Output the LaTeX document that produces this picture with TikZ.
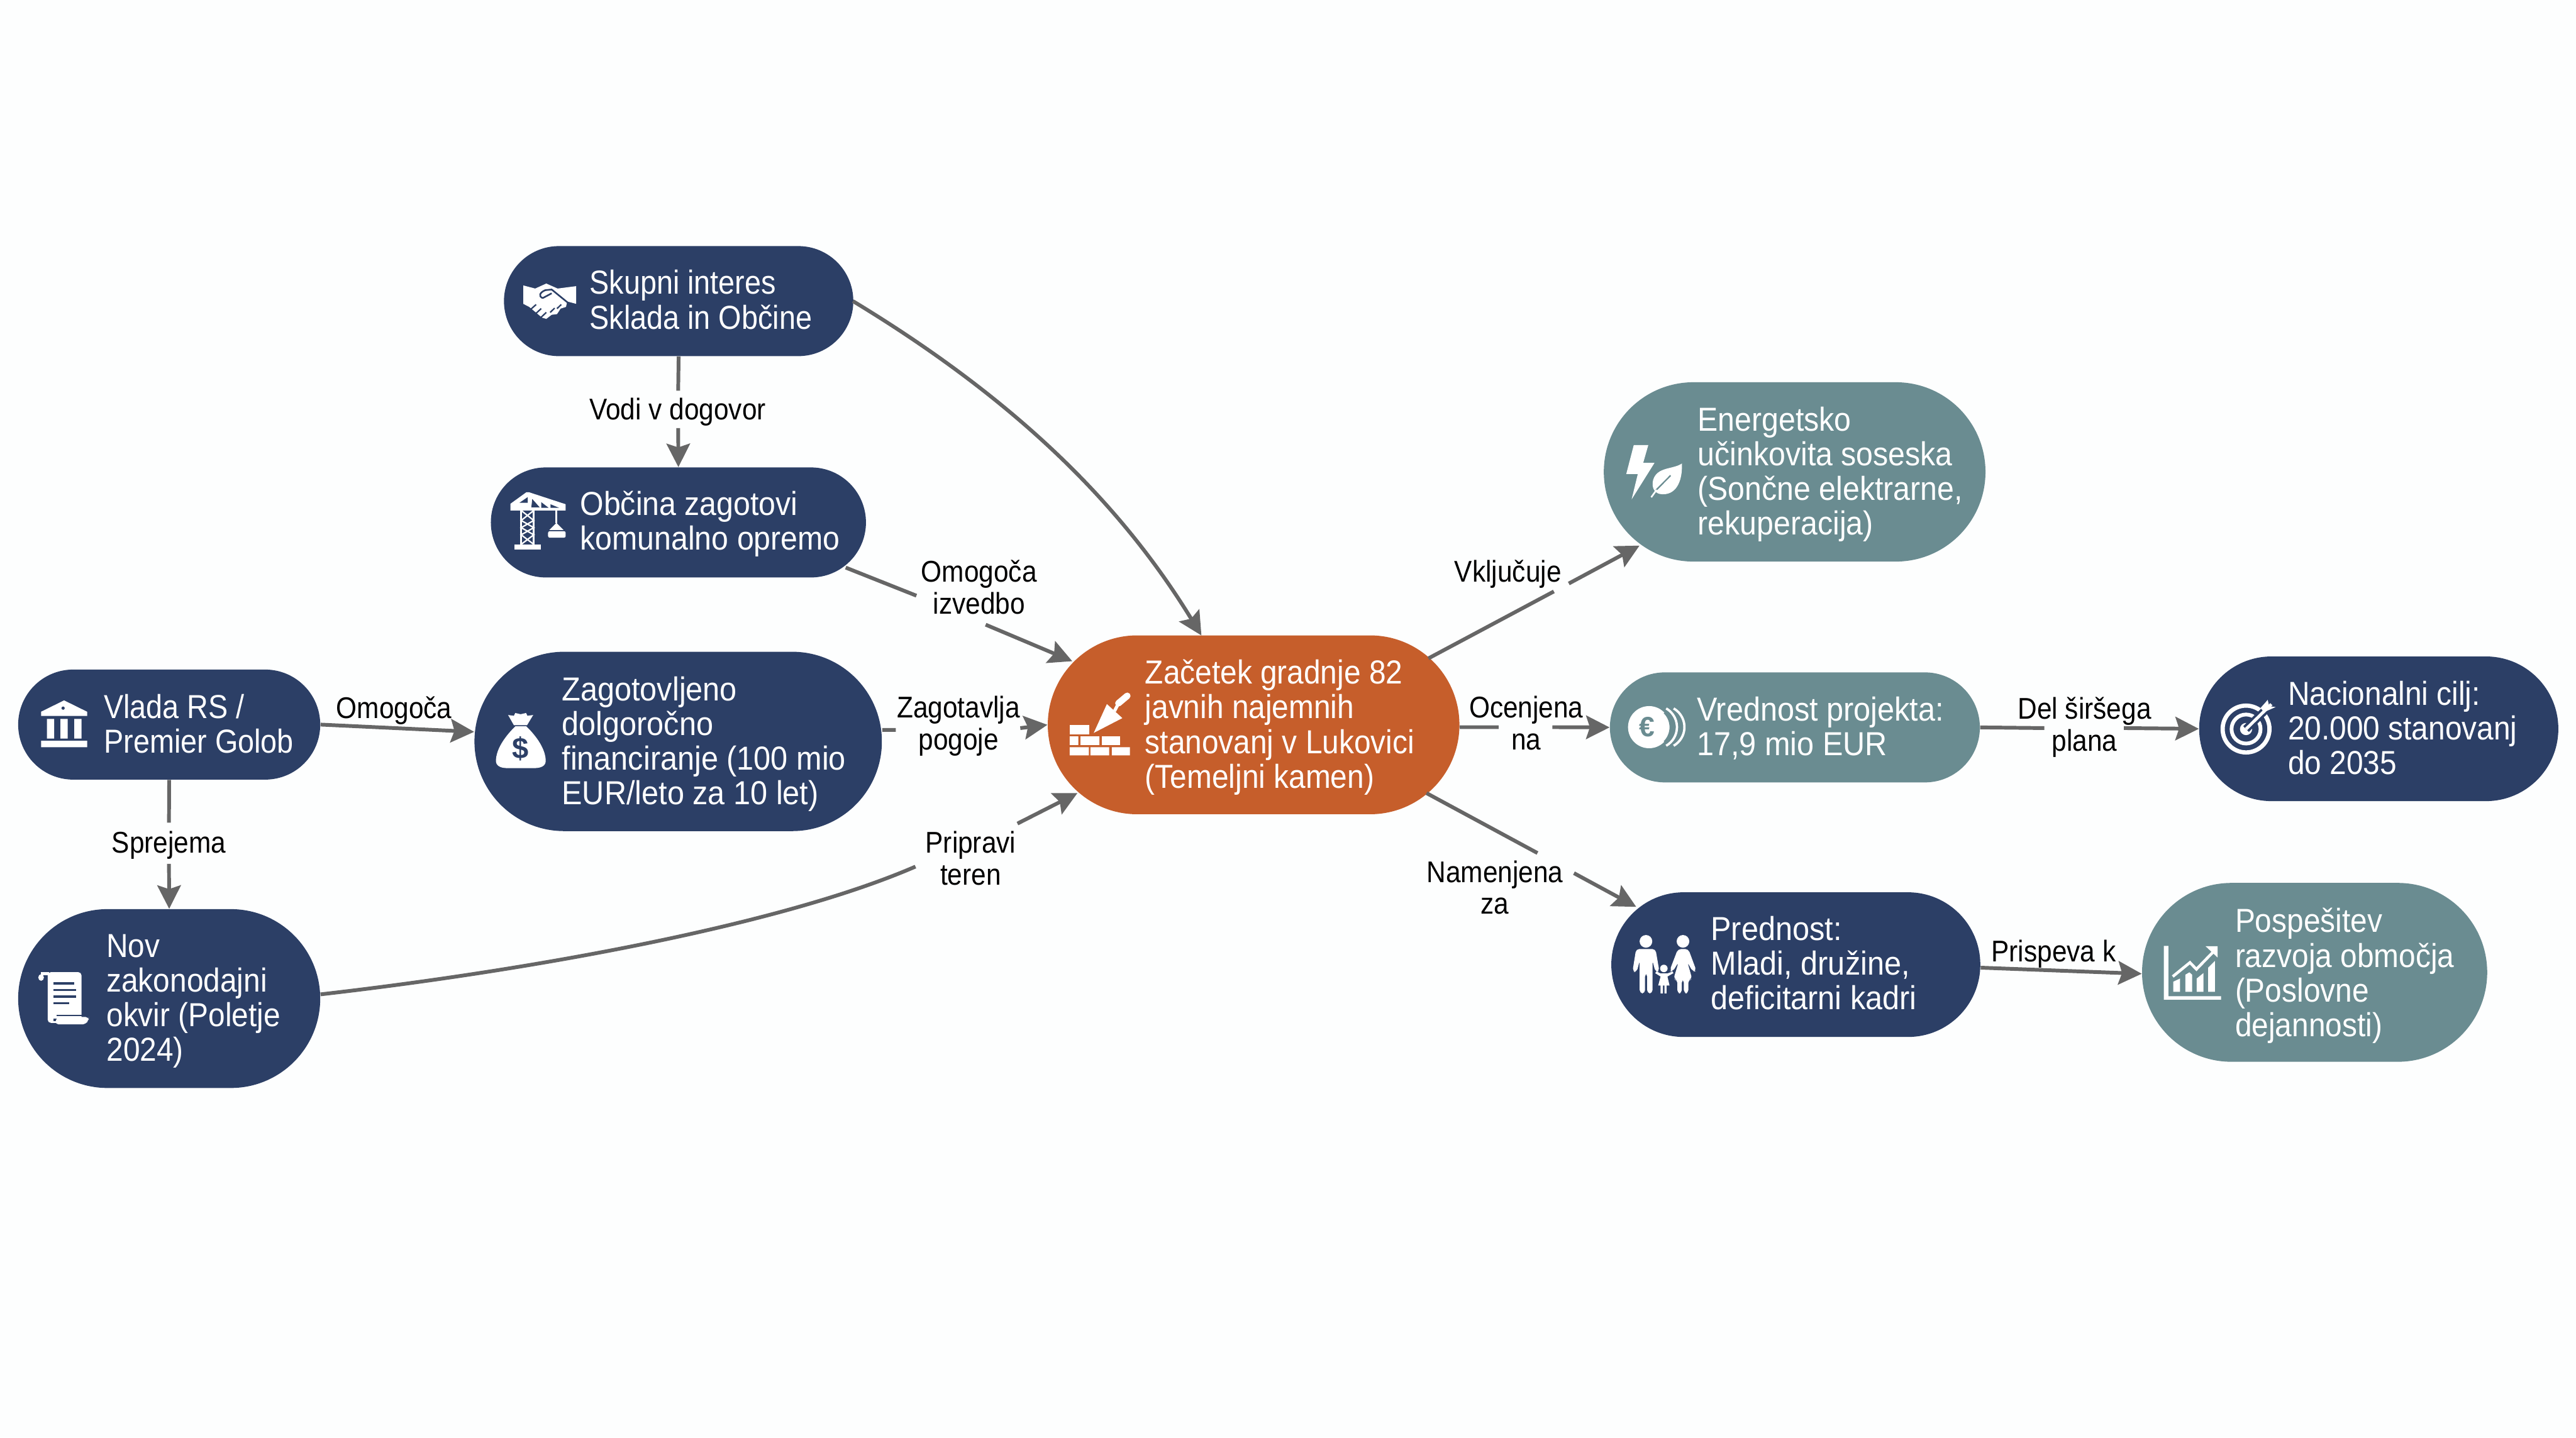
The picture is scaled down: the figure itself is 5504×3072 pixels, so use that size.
\documentclass[tikz,border=0pt]{standalone}
\usepackage{fontspec}
\setmainfont{Liberation Sans}
\newfontfamily\fa[FakeStretch=0.885]{Liberation Sans}
\newfontfamily\fb[FakeStretch=0.905]{Liberation Sans}
\newfontfamily\fc[FakeStretch=0.92]{Liberation Sans}
\newfontfamily\fd[FakeStretch=0.913]{Liberation Sans}
\newfontfamily\fl[FakeStretch=0.89]{Liberation Sans}
\usetikzlibrary{shapes.misc,arrows.meta,calc}
\definecolor{navy}{HTML}{2C3F66}
\definecolor{brick}{HTML}{C65E2B}
\definecolor{teal2}{HTML}{6A8C91}
\definecolor{wire}{HTML}{666666}
\definecolor{bgc}{HTML}{FDFEFE}
\newcommand{\ft}{\rule{0pt}{15pt}}
\newcommand{\fs}{\rule{0pt}{14pt}}
\tikzset{
  pill/.style={shape=rounded rectangle,inner sep=0pt,draw=none,text=white},
  pillb/.style={pill,fill=navy},
  pillo/.style={pill,fill=brick},
  pillt/.style={pill,fill=teal2},
  txt/.style={anchor=north west,inner sep=0pt,align=left,text=white,xshift=-0.03cm,font=\fontsize{20.2}{21.05}\selectfont},
  lab/.style={anchor=north,inner sep=0pt,align=center,text=black,font=\fontsize{18.2}{19.35}\selectfont},
  conn/.style={draw=wire,line width=0.08cm,-{Stealth[length=0.5cm,width=0.5cm,inset=0.08cm]}},
  ico/.style={fill=white,draw=none},
  wl/.style={draw=white,line width=#1*0.01cm},
  nl/.style={draw=navy,line width=#1*0.01cm},
}
\begin{document}
\begin{tikzpicture}[x=0.01cm,y=-0.01cm]
\fill[bgc] (0,0) rectangle (5504,3072);
% pills
\node[pillb,minimum width=7.46cm,minimum height=2.35cm] (skupni) at (1450,643.5) {};
\node[pillb,minimum width=8.01cm,minimum height=2.35cm] (obcina) at (1449.5,1116.5) {};
\node[pillb,minimum width=6.45cm,minimum height=2.35cm] (vlada) at (361.5,1548.5) {};
\node[pillb,minimum width=6.45cm,minimum height=3.82cm] (nov) at (361.5,2134) {};
\node[pillb,minimum width=8.70cm,minimum height=3.83cm] (zagot) at (1449,1584.5) {};
\node[pillo,minimum width=8.79cm,minimum height=3.82cm] (center) at (2678.5,1549) {};
\node[pillt,minimum width=8.15cm,minimum height=3.83cm] (energ) at (3834.5,1008.5) {};
\node[pillt,minimum width=7.90cm,minimum height=2.35cm] (vred) at (3835,1554.5) {};
\node[pillb,minimum width=7.67cm,minimum height=3.09cm] (nac) at (5082.5,1557.5) {};
\node[pillb,minimum width=7.88cm,minimum height=3.09cm] (pred) at (3837,2061.5) {};
\node[pillt,minimum width=7.37cm,minimum height=3.82cm] (posp) at (4945.5,2078) {};
% gap ends of connectors
\coordinate (g1a) at (1449,835); \coordinate (g1b) at (1449,915);
\coordinate (g2a) at (361,1758); \coordinate (g2b) at (361,1846);
\coordinate (g3a) at (1914,1560); \coordinate (g3b) at (2180,1556);
\coordinate (g4a) at (1958,1273); \coordinate (g4b) at (2106,1335);
\coordinate (g5a) at (1956,1852); \coordinate (g5b) at (2174,1760);
\coordinate (g6a) at (3320,1264); \coordinate (g6b) at (3352,1247);
\coordinate (g7a) at (3202,1554); \coordinate (g7b) at (3317,1554);
\coordinate (g8a) at (3285,1823); \coordinate (g8b) at (3363,1866);
\coordinate (g9a) at (4368,1556); \coordinate (g9b) at (4538,1556);
% connectors
\draw[conn] (skupni.south) -- (g1a) (g1b) -- (obcina.north);
\draw[conn] (vlada.south) -- (g2a) (g2b) -- (nov.north);
\draw[conn] (vlada.east) -- ([shift={(0,-20.5)}]zagot.west);
\draw[conn] ([shift={(0,-24.5)}]zagot.east) -- (g3a) (g3b) -- (center.west);
\draw[conn] ([shift={(-1.5,0)}]skupni.east) .. controls (2180,860) and (2400,1085) .. ([shift={(-111.5,-191)}]center.center);
\draw[conn] ([shift={(357.5,96.5)}]obcina.center) -- (g4a) (g4b) -- ([shift={(-387.5,-136)}]center.center);
\draw[conn] ([shift={(0,-9)}]nov.east) .. controls (1105,2077) and (1656,1982) .. (g5a) (g5b) -- ([shift={(-376.5,146)}]center.center);
\draw[conn] ([shift={(373.5,-142)}]center.center) -- (g6a) (g6b) -- ([shift={(-331.5,157.5)}]energ.center);
\draw[conn] ([shift={(0,5)}]center.east) -- (g7a) (g7b) -- (vred.west);
\draw[conn] ([shift={(369.5,146)}]center.center) -- (g8a) (g8b) -- ([shift={(-341,-123.5)}]pred.center);
\draw[conn] (vred.east) -- (g9a) (g9b) -- (nac.west);
\draw[conn] ([shift={(0,6.5)}]pred.east) -- ([shift={(0,3)}]posp.west);
% node texts
\node[txt,font=\fontsize{20.2}{21.05}\selectfont\fa] (skupnit) at (1262,628-52.7) {\ft Skupni interes\\Sklada in Občine};
\node[txt,font=\fontsize{20.2}{21.05}\selectfont\fd] (obcinat) at (1242,1100-52.7) {\ft Občina zagotovi\\komunalno opremo};
\node[txt,font=\fontsize{20.2}{21.05}\selectfont\fa] (vladat) at (224.5,1534-52.7) {\ft Vlada RS /\\Premier Golob};
\node[txt,font=\fontsize{20.2}{21.05}\selectfont\fb] (novt) at (230,2045-52.7) {\ft Nov\\zakonodajni\\okvir (Poletje\\2024)};
\node[txt,font=\fontsize{20.2}{21.05}\selectfont\fc] (zagott) at (1203,1497-52.7) {\ft Zagotovljeno\\dolgoročno\\financiranje (100 mio\\EUR/leto za 10 let)};
\node[txt,font=\fontsize{20.2}{21.05}\selectfont\fb] (centert) at (2449,1461-52.7) {\ft Začetek gradnje 82\\javnih najemnih\\stanovanj v Lukovici\\(Temeljni kamen)};
\node[txt,font=\fontsize{20.2}{21.05}\selectfont\fd] (energt) at (3630,920-52.7) {\ft Energetsko\\učinkovita soseska\\(Sončne elektrarne,\\rekuperacija)};
\node[txt,font=\fontsize{20.2}{21.05}\selectfont\fc] (vredt) at (3628,1540-52.7) {\ft Vrednost projekta:\\17,9 mio EUR};
\node[txt,font=\fontsize{20.2}{21.05}\selectfont\fb] (nact) at (4891,1506-52.7) {\ft Nacionalni cilj:\\20.000 stanovanj\\do 2035};
\node[txt,font=\fontsize{20.2}{21.05}\selectfont\fc] (predt) at (3658,2009-52.7) {\ft Prednost:\\Mladi, družine,\\deficitarni kadri};
\node[txt,font=\fontsize{20.2}{21.05}\selectfont\fb] (pospt) at (4778,1992-52.7) {\ft Pospešitev\\razvoja območja\\(Poslovne\\dejannosti)};
% connector labels
\tikzset{lab/.append style={font=\fontsize{18.2}{19.35}\selectfont\fl}}
\node[lab] (l1) at (1448,896-49.2) {\fs Vodi v dogovor};
\node[lab] (l2) at (361,1822-49.2) {\fs Sprejema};
\node[lab] (l3) at (842,1534-49.2) {\fs Omogoča};
\node[lab] (l4) at (2048,1533-49.2) {\fs Zagotavlja\\pogoje};
\node[lab] (l5) at (2092,1243-49.2) {\fs Omogoča\\izvedbo};
\node[lab] (l6) at (2074,1822-49.2) {\fs Pripravi\\teren};
\node[lab] (l7) at (3222,1243-49.2) {\fs Vključuje};
\node[lab] (l8) at (3261,1533-49.2) {\fs Ocenjena\\na};
\node[lab] (l9) at (4454,1536-49.2) {\fs Del širšega\\plana};
\node[lab] (l10) at (3194,1885-49.2) {\fs Namenjena\\za};
\node[lab] (l11) at (4388,2054-49.2) {\fs Prispeva k};
% --- icons ---
% handshake
\begin{scope}[shift={(1000,480)},x=0.00638cm,y=-0.0051cm]
\fill[ico] (185,255) -- (225,268) -- (262,247) -- (300,268) -- (362,258) -- (362,332) -- (332,322) -- (328,345) -- (310,352) -- (298,375) -- (280,378) -- (262,395) -- (248,390) -- (205,345) -- (185,332) -- cycle;
\draw[nl=3.5,line join=round] (335,328) -- (280,272) -- (258,275) .. controls (240,285) and (235,300) .. (250,308) -- (280,288);
\draw[nl=3] (228,335) -- (210,355) (245,352) -- (225,375) (262,368) -- (245,388) (290,350) -- (275,368) (312,335) -- (298,352);
\end{scope}
% crane
\begin{scope}[shift={(1000,480)},x=0.00638cm,y=-0.0051cm]
\fill[ico] (155,1342) rectangle (243,1362);
\draw[wl=4.5] (178,1198) -- (178,1342) (220,1198) -- (220,1342);
\draw[wl=3] (178,1198) -- (220,1240) -- (178,1270) -- (220,1300) -- (178,1340);
\draw[wl=3] (220,1198) -- (178,1240) -- (220,1270) -- (178,1300) -- (220,1340);
\fill[ico] (142,1170) -- (195,1122) -- (205,1122) -- (327,1172) -- (327,1198) -- (142,1198) -- cycle;
\fill[navy] (215,1150) -- (240,1185) -- (212,1185) -- cycle (245,1163) -- (270,1187) -- (245,1187) -- cycle (276,1172) -- (305,1187) -- (276,1187) -- cycle (200,1142) -- (200,1166) -- (172,1166) -- cycle;
\draw[wl=3.5] (296,1198) -- (296,1252);
\fill[ico] (296,1250) -- (320,1280) -- (272,1280) -- cycle;
\fill[ico,rounded corners=1pt] (268,1285) rectangle (327,1312);
\end{scope}
% bank
\begin{scope}[shift={(0,1350)},x=0.007015cm,y=-0.00638cm]
\fill[ico] (195,230) -- (265,268) -- (265,282) -- (125,282) -- (125,268) -- cycle;
\fill[navy] (192,256) circle[radius=0.035cm];
\fill[ico] (143,292) rectangle (165,358) (184,292) rectangle (206,358) (226,292) rectangle (248,358) (125,365) rectangle (265,387);
\end{scope}
% scroll
\begin{scope}[shift={(0,1350)},x=0.007015cm,y=-0.00638cm]
\fill[ico,rounded corners=2pt] (145,1140) rectangle (248,1310);
\fill[ico] (125,1158) ellipse[x radius=0.06cm,y radius=0.07cm];
\fill[ico] (125,1140) rectangle (150,1150);
\fill[navy] (163,1296) rectangle (252,1304);
\fill[ico,rounded corners=2pt] (172,1290) -- (270,1290) -- (270,1300) -- (260,1315) -- (168,1315) -- cycle;
\draw[nl=4.5] (163,1178) -- (225,1178) (163,1200) -- (232,1200) (163,1222) -- (232,1222) (163,1244) -- (210,1244);
\draw[nl=3.5] (172,1285) -- (250,1285);
\end{scope}
% money bag
\begin{scope}[shift={(1000,1350)},x=0.00765cm,y=-0.00333cm]
\fill[ico] (112,535) -- (128,540) -- (132,522) -- (147,530) -- (162,522) -- (166,540) -- (182,535) -- (165,600) -- (128,600) -- cycle;
\fill[ico] (132,608) .. controls (100,680) and (78,760) .. (78,830) .. controls (78,860) and (90,876) .. (110,876) -- (185,876) .. controls (205,876) and (217,860) .. (217,830) .. controls (217,760) and (195,680) .. (163,608) -- cycle;
\end{scope}
\node[inner sep=0pt,text=navy,font=\fontsize{18}{18}\selectfont\bfseries] (dollar) at (1112.5,1600) {\$};
% trowel and bricks
\begin{scope}[shift={(2200,1300)},x=0.007015cm,y=-0.00333cm]
\fill[ico] (122,750) rectangle (182,808);
\fill[ico] (122,822) rectangle (148,878) (155,822) rectangle (212,878) (220,822) rectangle (275,878);
\fill[ico] (122,892) rectangle (180,945) (185,892) rectangle (242,945) (250,892) rectangle (305,945);
\fill[ico] (235,615) -- (282,705) -- (195,800) -- cycle;
\draw[wl=7] (258,660) -- (268,620);
\draw[wl=14,line cap=round] (270,610) -- (297,562);
\end{scope}
% bolt and leaf
\begin{scope}[shift={(3380,780)},x=0.00574cm,y=-0.00638cm]
\fill[ico] (193,268) -- (247,268) -- (228,328) -- (270,328) -- (185,450) -- (208,365) -- (165,365) -- cycle;
\fill[ico] (372,330) .. controls (340,350) and (280,340) .. (265,385) .. controls (258,410) and (270,428) .. (290,432) .. controls (350,440) and (375,390) .. (372,330) -- cycle;
\draw[teal2,line width=0.03cm] (275,420) -- (330,370);
\draw[wl=3.5] (258,443) -- (278,418);
\end{scope}
% coins
\draw[wl=5] (3560,1514) arc[start angle=60,end angle=-60,radius=0.46cm];
\draw[wl=5] (3576,1514) arc[start angle=60,end angle=-60,radius=0.46cm];
\fill[ico] (3523.5,1554) circle[radius=0.45cm];
\draw[teal2,line width=0.035cm] (3556,1523) arc[start angle=45,end angle=-45,radius=0.44cm];
\node[inner sep=0pt,text=teal2,font=\fontsize{17}{17}\selectfont\bfseries] (euro) at (3519,1554) {€};
% target
\draw[wl=9] (4799,1558) circle[radius=0.5cm];
\draw[wl=8] (4799,1558) circle[radius=0.31cm];
\fill[ico] (4799,1558) circle[radius=0.13cm];
\draw[nl=17] (4799,1558) -- (4853,1505);
\draw[wl=6.5] (4799,1558) -- (4853,1505);
\begin{scope}[shift={(4300,1350)},x=0.00768cm,y=-0.00333cm]
\fill[ico] (690,490) -- (710,438) -- (714,478) -- (732,484) -- (700,516) -- cycle;
\end{scope}
% family
\begin{scope}[shift={(3400,1850)},x=0.00638cm,y=-0.00333cm]
\fill[ico] (183,486) circle[radius=0.135cm] (307,486) circle[radius=0.135cm] (243,660) circle[radius=0.08cm];
\fill[ico,rounded corners=2pt] (150,535) -- (215,535) -- (228,680) -- (215,684) -- (205,610) -- (205,820) -- (187,820) -- (187,690) -- (180,690) -- (180,820) -- (162,820) -- (162,610) -- (152,684) -- (138,680) -- cycle;
\fill[ico,rounded corners=2pt] (290,535) -- (325,535) -- (352,675) -- (340,682) -- (322,620) -- (338,730) -- (325,730) -- (325,820) -- (310,820) -- (310,730) -- (303,730) -- (303,820) -- (288,820) -- (288,730) -- (275,730) -- (292,620) -- (272,682) -- (262,675) -- cycle;
\fill[ico] (232,692) -- (255,692) -- (272,680) -- (275,690) -- (255,712) -- (262,770) -- (252,770) -- (252,820) -- (245,820) -- (245,770) -- (240,770) -- (240,820) -- (232,820) -- (232,770) -- (224,770) -- (232,712) -- (214,690) -- (218,680) -- cycle;
\end{scope}
% chart
\begin{scope}[shift={(4500,1850)},x=0.00574cm,y=-0.00333cm]
\fill[ico] (215,515) -- (232,515) -- (232,838) -- (428,838) -- (428,860) -- (215,860) -- cycle;
\fill[ico] (250,745) -- (275,725) -- (275,810) -- (250,810) -- cycle;
\fill[ico] (295,700) -- (310,685) -- (320,700) -- (320,810) -- (295,810) -- cycle;
\fill[ico] (337,725) -- (362,690) -- (362,810) -- (337,810) -- cycle;
\fill[ico] (380,655) -- (405,612) -- (405,810) -- (380,810) -- cycle;
\draw[wl=6,line join=miter] (248,712) -- (312,622) -- (336,665) -- (398,555);
\fill[ico] (370,517) -- (415,517) -- (415,590) -- cycle;
\end{scope}
\end{tikzpicture}
\end{document}
